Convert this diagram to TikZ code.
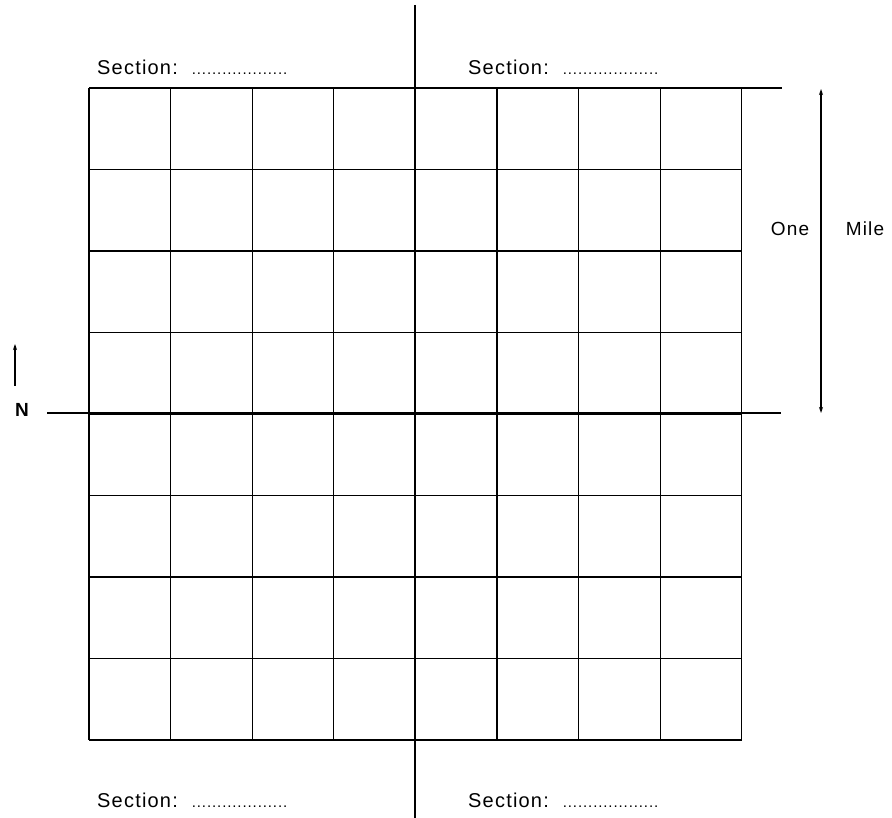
\documentclass[tikz,border=0pt]{standalone}
\usepackage{fontspec}
\setmainfont{Liberation Sans}[LetterSpace=6]
\usetikzlibrary{arrows.meta}
\newcommand{\sectlabel}{Section:\hspace{14pt}{\fontsize{15}{18}\selectfont ...................}}
\begin{document}
\begin{tikzpicture}[x=1pt,y=-1pt,
  grid/.style={line width=1.3pt,black},
  heavy/.style={line width=2.2pt,black},
  lbl/.style={font=\fontsize{20}{24}\selectfont,anchor=west,inner sep=0pt},
  tip/.style={-{Stealth[length=6pt,width=4pt]}, line width=1.2pt}]
\useasboundingbox (0,0) rectangle (892,818);
% grid
\foreach \i in {0,...,8}{
  \draw[grid] ({89+\i*81.6},88) -- ({89+\i*81.6},740);
  \draw[grid] (89,{88+\i*81.5}) -- (742,{88+\i*81.5});
}
% heavy lines
\coordinate (vt) at (415,5);
\coordinate (vb) at (415,818);
\coordinate (hl) at (47,413);
\coordinate (hr) at (781,413);
\coordinate (tl) at (742,88);
\coordinate (tr) at (782,88);
\draw[heavy] (vt) -- (vb);
\draw[heavy] (hl) -- (hr);
\draw[heavy] (tl) -- (tr);
% scale arrow
\coordinate (sa) at (821,89);
\coordinate (sb) at (821,413);
\draw[{Stealth[length=6pt,width=4pt]}-{Stealth[length=6pt,width=4pt]}, line width=1.2pt] (sa) -- (sb);
\node[lbl,anchor=center,font=\fontsize{19}{22}\selectfont] (one) at (790,229) {One};
\node[lbl,anchor=center,font=\fontsize{19}{22}\selectfont] (mile) at (865,229) {Mile};
% north arrow
\coordinate (na) at (15,386);
\coordinate (nb) at (15,344);
\draw[tip] (na) -- (nb);
\node[lbl,anchor=center,font=\fontsize{19}{20}\selectfont\bfseries] (n) at (22,410) {N};
% section labels
\node[lbl] (s1) at (97,67) {\sectlabel};
\node[lbl] (s2) at (468,67) {\sectlabel};
\node[lbl] (s3) at (97,800) {\sectlabel};
\node[lbl] (s4) at (468,800) {\sectlabel};
\end{tikzpicture}
\end{document}
